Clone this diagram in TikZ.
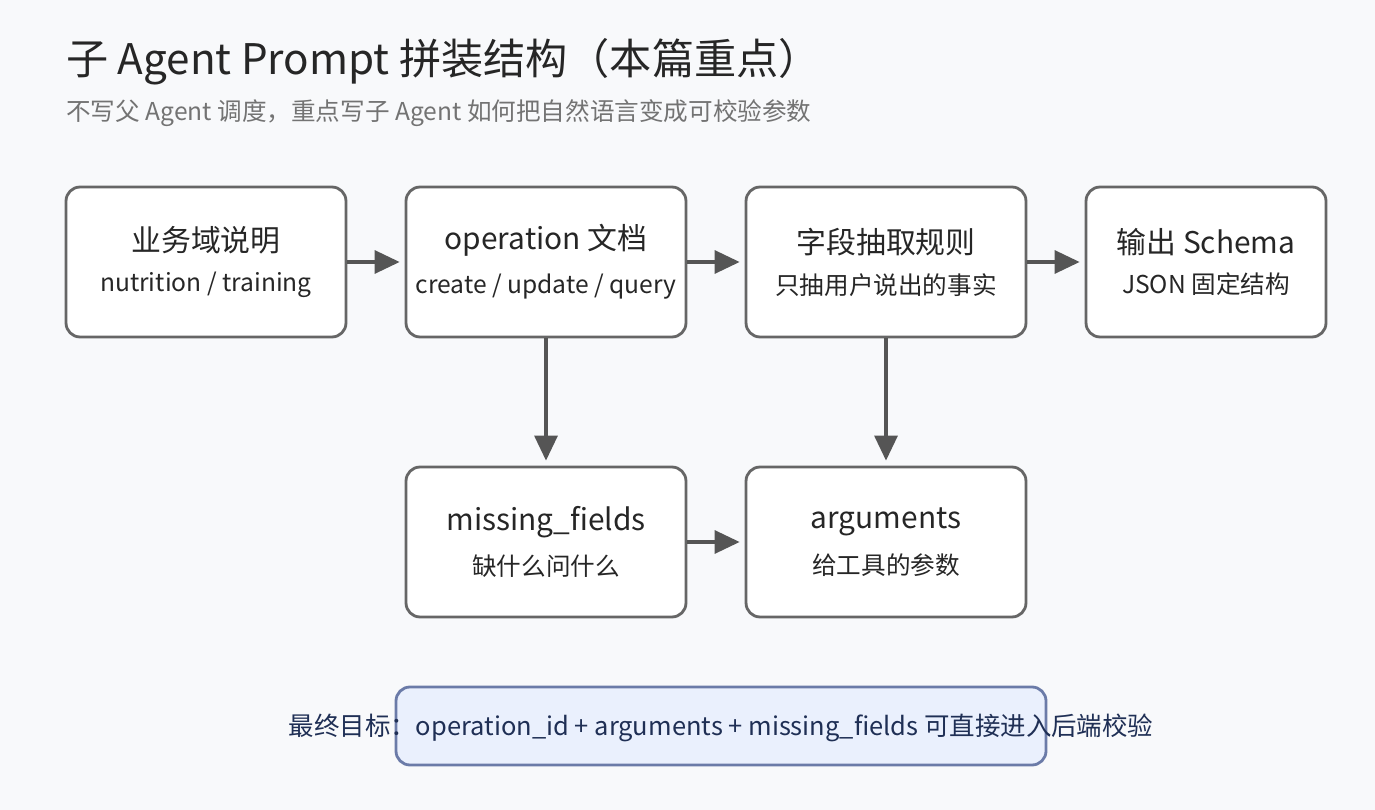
\documentclass[tikz,border=0pt]{standalone}
\usepackage{fontspec}
\setmainfont{Noto Sans CJK SC}
\usetikzlibrary{arrows.meta,positioning}
\definecolor{bgcol}{HTML}{F8F9FB}
\definecolor{edgecol}{HTML}{666666}
\definecolor{arrcol}{HTML}{555555}
\definecolor{goalfill}{HTML}{EAF0FD}
\definecolor{goaledge}{HTML}{6B7BA8}
\definecolor{goaltext}{HTML}{1F2F55}
\tikzset{
  stage/.style={draw=edgecol,line width=1.6pt,fill=white,rounded corners=0.28cm,
    minimum width=5.6cm,minimum height=3cm,align=center,text=black!85},
  flow/.style={draw=arrcol,line width=1.8pt,-{Triangle[length=0.5cm,width=0.46cm]},shorten >=0.1cm},
}
\newcommand{\boxtext}[2]{{\fontsize{17}{20}\selectfont #1}\\[9pt]{\fontsize{14}{16}\selectfont #2}}
\begin{document}
\begin{tikzpicture}[x=0.02cm,y=-0.02cm]
	%background
	\fill[bgcol] (0,0) rectangle (1375,810);
	%title
	\node[anchor=west,inner sep=0,text=black!85] (title) at (66,62)
	{\fontsize{24}{28}\selectfont 子 Agent Prompt 拼装结构（本篇重点）};
	\node[anchor=west,inner sep=0,text=black!55] (subtitle) at (66,113)
	{\fontsize{14}{16}\selectfont 不写父 Agent 调度，重点写子 Agent 如何把自然语言变成可校验参数};
	%stages
	\node[stage] (domain) at (206,262) {\boxtext{业务域说明}{nutrition / training}};
	\node[stage] (opdoc) at (546,262) {\boxtext{operation 文档}{create / update / query}};
	\node[stage] (rules) at (886,262) {\boxtext{字段抽取规则}{只抽用户说出的事实}};
	\node[stage,minimum width=4.8cm] (schema) at (1206,262) {\boxtext{输出 Schema}{JSON 固定结构}};
	\node[stage] (missing) at (546,542) {\boxtext{missing\_fields}{缺什么问什么}};
	\node[stage] (args) at (886,542) {\boxtext{arguments}{给工具的参数}};
	%arrows
	\draw[flow] (domain) -- (opdoc);
	\draw[flow] (opdoc) -- (rules);
	\draw[flow] (rules) -- (schema);
	\draw[flow] (opdoc) -- (missing);
	\draw[flow] (rules) -- (args);
	\draw[flow] (missing) -- (args);
	%goal
	\draw[goaledge,fill=goalfill,line width=1.6pt,rounded corners=0.28cm] (396,687) rectangle (1046,765);
	\node[inner sep=0,text=goaltext] (goal) at (721,728)
	{\fontsize{14.5}{16}\selectfont 最终目标：operation\_id + arguments + missing\_fields 可直接进入后端校验};
\end{tikzpicture}
\end{document}
